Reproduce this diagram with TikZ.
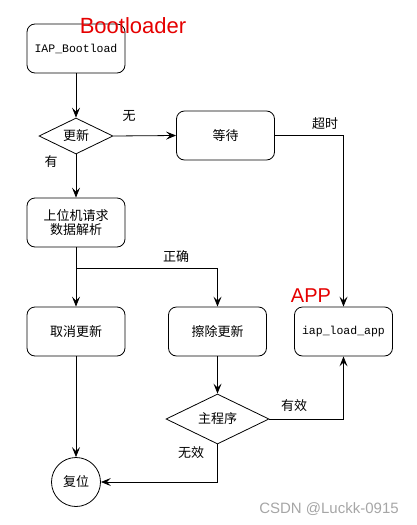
\documentclass[tikz,border=0pt]{standalone}
\usepackage{fontspec}
\setmainfont{Liberation Sans}
\newfontfamily\cjk{Noto Sans CJK SC}
\newfontfamily\mono{Liberation Mono}
\usetikzlibrary{shapes.geometric,arrows.meta}
\begin{document}
\begin{tikzpicture}[x=1pt,y=-1pt,
  every node/.style={font=\cjk\fontsize{13}{14}\selectfont},
  box/.style={draw,rounded corners=8pt,minimum width=98pt,minimum height=49pt,inner sep=0pt,line width=0.8pt,align=center},
  dia/.style={draw,diamond,inner sep=0pt,shape aspect=2,line width=0.8pt},
  lab/.style={inner sep=0pt},
  conn/.style={line width=0.8pt,-{Stealth[length=10pt,width=8pt,inset=4pt]}},
  redlab/.style={text=red!90!black,inner sep=0pt}]
\useasboundingbox (0,0) rectangle (416,525);
\node[box,font=\mono\fontsize{11.5}{12}\selectfont] (boot) at (76,48.5) {IAP\_Bootload};
\node[redlab,font=\fontsize{22}{24}\selectfont] (blab) at (133,26) {Bootloader};
\node[dia,minimum width=74pt,minimum height=36pt] (upd) at (76,136) {更新};
\node[box] (wait) at (225.5,135.5) {等待};
\node[box,font=\cjk\fontsize{13}{13.5}\selectfont] (host) at (76,222.5) {上位机请求\\数据解析};
\node[box] (cancel) at (76,331.5) {取消更新};
\node[box] (erase) at (217.5,331.5) {擦除更新};
\node[box,font=\mono\fontsize{11.5}{12}\selectfont] (app) at (343.5,331.5) {iap\_load\_app};
\node[redlab,font=\fontsize{20}{22}\selectfont] (alab) at (311,296) {APP};
\node[dia,minimum width=103pt,minimum height=50pt] (main) at (217.5,419) {主程序};
\node[draw,circle,minimum size=49pt,inner sep=0pt,line width=0.8pt] (reset) at (76,482) {复位};
\coordinate (br) at (76,268);
\draw[conn] (boot.south) -- (upd.north);
\draw[conn] (upd.east) -- (wait.west);
\draw[conn] (upd.south) -- (host.north);
\draw[conn] (wait.east) -| (app.north);
\draw[conn] (host.south) -- (cancel.north);
\draw[conn] (br) -| (erase.north);
\draw[conn] (erase.south) -- (main.north);
\draw[conn] (main.east) -| (app.south);
\draw[conn] (main.south) |- (reset.east);
\draw[conn] (cancel.south) -- (reset.north);
\node[lab] (l1) at (129,116) {无};
\node[lab] (l2) at (51,162) {有};
\node[lab] (l3) at (325,124) {超时};
\node[lab] (l4) at (176,257) {正确};
\node[lab] (l5) at (294,406) {有效};
\node[lab] (l6) at (191,453) {无效};
\node[inner sep=0pt,text=black!35,font=\fontsize{15}{16}\selectfont] (wm) at (329,509) {CSDN @Luckk-0915};
\end{tikzpicture}
\end{document}
